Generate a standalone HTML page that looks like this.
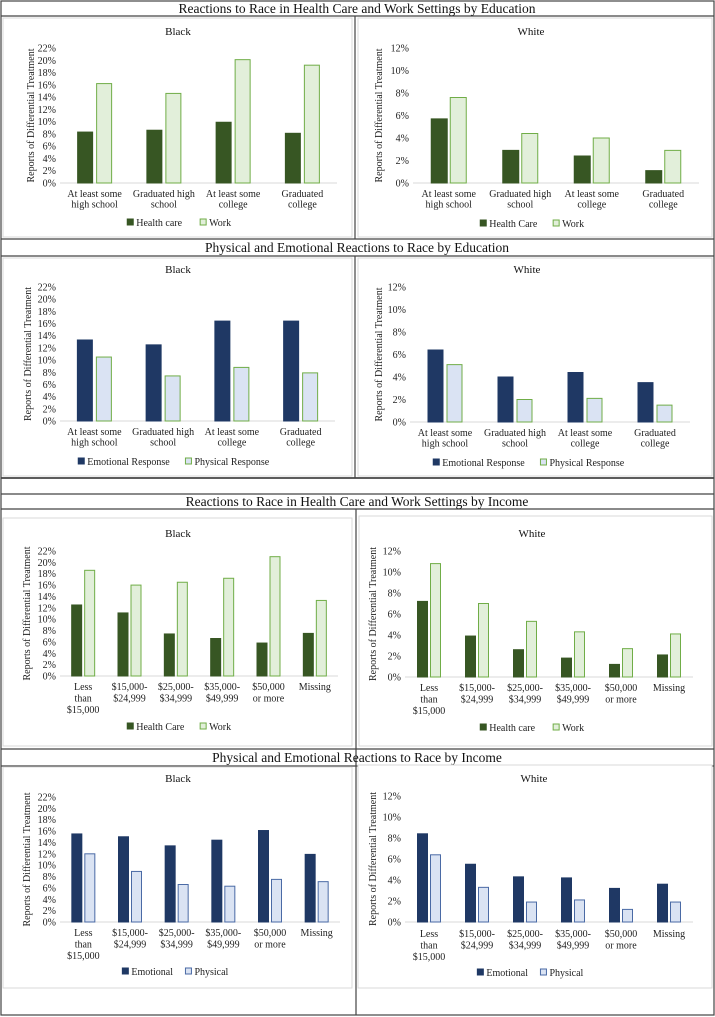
<!DOCTYPE html>
<html><head><meta charset="utf-8">
<style>
body{margin:0;background:#fff;}
svg{display:block;font-family:"Liberation Serif",serif;}
</style></head>
<body>
<svg id="s" width="715" height="1017" viewBox="0 0 715 1017">
<rect x="1" y="1" width="713" height="1014" fill="none" stroke="#444" stroke-width="1.2"/>
<g stroke="#444" stroke-width="1.2">
<line x1="1" y1="16" x2="714" y2="16"/>
<line x1="1" y1="239" x2="714" y2="239"/>
<line x1="1" y1="256" x2="714" y2="256"/>
<line x1="1" y1="478" x2="714" y2="478" stroke-width="1.8"/>
<line x1="1" y1="494" x2="714" y2="494"/>
<line x1="1" y1="509" x2="714" y2="509"/>
<line x1="1" y1="749" x2="714" y2="749"/>
<line x1="1" y1="766" x2="714" y2="766"/>
<line x1="355" y1="16" x2="355" y2="239"/>
<line x1="355" y1="256" x2="355" y2="478"/>
<line x1="356" y1="509" x2="356" y2="1015"/>
</g>
<g font-size="13.5" text-anchor="middle" fill="#111">
<text x="357" y="13">Reactions to Race in Health Care and Work Settings by Education</text>
<text x="357" y="252">Physical and Emotional Reactions to Race by Education</text>
<text x="357" y="506">Reactions to Race in Health Care and Work Settings by Income</text>
<text x="357" y="762">Physical and Emotional Reactions to Race by Income</text>
</g>
</svg>
<script>
const eduCats = [["At least some","high school"],["Graduated high","school"],["At least some","college"],["Graduated","college"]];
const incCats = [["Less","than","$15,000"],["$15,000-","$24,999"],["$25,000-","$34,999"],["$35,000-","$49,999"],["$50,000","or more"],["Missing"]];
const blackEduHealth = [8.3, 8.6, 9.9, 8.1];
const blackEduWork = [16.2, 14.6, 20.1, 19.2];
const whiteEduHealth = [5.7, 2.9, 2.4, 1.1];
const whiteEduWork = [7.6, 4.4, 4.0, 2.9];
const blackEduEmotional = [13.3, 12.5, 16.4, 16.4];
const blackEduPhysical = [10.5, 7.4, 8.8, 7.9];
const whiteEduEmotional = [6.4, 4.0, 4.4, 3.5];
const whiteEduPhysical = [5.1, 2.0, 2.1, 1.5];
const blackIncHealth = [12.5, 11.1, 7.4, 6.6, 5.8, 7.5];
const blackIncWork = [18.6, 16.0, 16.5, 17.2, 21.0, 13.3];
const whiteIncHealth = [7.2, 3.9, 2.6, 1.8, 1.2, 2.1];
const whiteIncWork = [10.8, 7.0, 5.3, 4.3, 2.7, 4.1];
const blackIncEmotional = [15.5, 15.0, 13.4, 14.4, 16.1, 11.9];
const blackIncPhysical = [12.0, 8.9, 6.6, 6.3, 7.5, 7.1];
const whiteIncEmotional = [8.4, 5.5, 4.3, 4.2, 3.2, 3.6];
const whiteIncPhysical = [6.4, 3.3, 1.9, 2.1, 1.2, 1.9];
const blackTicks = [0,2,4,6,8,10,12,14,16,18,20,22];
const whiteTicks = [0,2,4,6,8,10,12];

const NS = "http://www.w3.org/2000/svg";
const svg = document.getElementById('s');
function mk(tag, attrs, parent, txt){
  const e = document.createElementNS(NS, tag);
  for (const k in attrs) e.setAttribute(k, attrs[k]);
  if (txt !== undefined) e.textContent = txt;
  (parent||svg).appendChild(e);
  return e;
}
function chart(o){
  const g = mk('g', {});
  
  
  mk('rect', {x:o.px, y:o.py, width:o.pw, height:o.ph, fill:'#fff', stroke:'#d9d9d9', 'stroke-width':1}, g);
  const t = mk('text', {x:o.tx, y:o.ty, 'font-size':11, 'text-anchor':'middle', fill:'#111'}, g, o.title);
  
  
  const yS = v => o.y0 - (v / o.max) * (o.y0 - o.y1);
  const n = o.cats.length;
  const step = (o.x1 - o.x0) / n;
  const xC = i => o.x0 + step * (i + 0.5);
  mk('line', {x1:o.x0, x2:o.x1, y1:o.y0, y2:o.y0, stroke:'#d9d9d9', 'stroke-width':1}, g);
  o.ticks.forEach(v => {
    const tl = mk('text', {x:o.x0 - 4, y:yS(v) + 3.5, 'font-size':10, 'text-anchor':'end', fill:'#222'}, g, v + '%');
    
    
  });
  const ya = mk('text', {transform:`translate(${o.yax},${(o.y0+o.y1)/2}) rotate(-90)`, 'font-size':10, 'text-anchor':'middle', fill:'#222'}, g, 'Reports of Differential Treatment');
  
  
  o.cats.forEach((lines, i) => {
    const b1 = mk('rect', {x:xC(i) - o.bw - o.gap/2, y:yS(o.s1[i]), width:o.bw, height:o.y0 - yS(o.s1[i]), fill:o.col.c1, stroke:o.col.s1, 'stroke-width':1}, g);
    
    
    const b2 = mk('rect', {x:xC(i) + o.gap/2, y:yS(o.s2[i]), width:o.bw, height:o.y0 - yS(o.s2[i]), fill:o.col.c2, stroke:o.col.s2, 'stroke-width':1}, g);
    
    
    lines.forEach((ln, j) => {
      const xl = mk('text', {x:xC(i), y:o.ly + j*o.lh, 'font-size':10, 'text-anchor':'middle', fill:'#222'}, g, ln);
      
      
    });
  });
  const w1 = o.col.l1.length * 4.9, w2 = o.col.l2.length * 4.9;
  const total = 8 + 3 + w1 + 10 + 8 + 3 + w2;
  let lx = o.lgx - total/2;
  const lg = mk('g', {}, g);
  
  
  mk('rect', {x:lx, y:o.lgy - 7, width:6, height:6, fill:o.col.c1, stroke:o.col.s1}, lg);
  mk('text', {x:lx + 9, y:o.lgy, 'font-size':10, fill:'#222'}, lg, o.col.l1);
  lx += 9 + w1 + 10;
  mk('rect', {x:lx, y:o.lgy - 7, width:6, height:6, fill:o.col.c2, stroke:o.col.s2}, lg);
  mk('text', {x:lx + 9, y:o.lgy, 'font-size':10, fill:'#222'}, lg, o.col.l2);
}
const greenA = {c1:"#375623", s1:"#375623", c2:"#e2efda", s2:"#70ad47", l1:"Health care", l2:"Work"};
const greenB = {c1:"#375623", s1:"#375623", c2:"#e2efda", s2:"#70ad47", l1:"Health Care", l2:"Work"};
const blueEdu = {c1:"#1f3864", s1:"#1f3864", c2:"#dae3f3", s2:"#70ad47", l1:"Emotional Response", l2:"Physical Response"};
const blueInc = {c1:"#1f3864", s1:"#1f3864", c2:"#dae3f3", s2:"#4a6aa5", l1:"Emotional", l2:"Physical"};

chart({name:'chart-black-health-work-education', title:'Black', px:3, py:18, pw:349, ph:219, tx:178, ty:35, x0:60, x1:337, y0:183, y1:48, max:22, ticks:blackTicks, yax:34, cats:eduCats, s1:blackEduHealth, s2:blackEduWork, col:greenA, bw:15, gap:4, ly:197, lh:10.5, lgx:180, lgy:226});
chart({name:'chart-white-health-work-education', title:'White', px:358, py:18, pw:354, ph:219, tx:531, ty:35, x0:413, x1:699, y0:183, y1:48, max:12, ticks:whiteTicks, yax:382, cats:eduCats, s1:whiteEduHealth, s2:whiteEduWork, col:greenB, bw:16, gap:3, ly:197, lh:10.5, lgx:533, lgy:227});
chart({name:'chart-black-physical-emotional-education', title:'Black', px:3, py:258, pw:349, ph:218, tx:178, ty:273, x0:60, x1:335, y0:421, y1:287, max:22, ticks:blackTicks, yax:31, cats:eduCats, s1:blackEduEmotional, s2:blackEduPhysical, col:blueEdu, bw:15, gap:4, ly:435, lh:10.5, lgx:180, lgy:465});
chart({name:'chart-white-physical-emotional-education', title:'White', px:358, py:258, pw:354, ph:218, tx:527, ty:273, x0:410, x1:690, y0:422, y1:287, max:12, ticks:whiteTicks, yax:382, cats:eduCats, s1:whiteEduEmotional, s2:whiteEduPhysical, col:blueEdu, bw:15, gap:4, ly:436, lh:10.5, lgx:535, lgy:466});
chart({name:'chart-black-health-work-income', title:'Black', px:3, py:518, pw:349, ph:228, tx:178, ty:537, x0:60, x1:338, y0:676, y1:551, max:22, ticks:blackTicks, yax:30, cats:incCats, s1:blackIncHealth, s2:blackIncWork, col:greenB, bw:10, gap:3, ly:690, lh:11.5, lgx:180, lgy:730});
chart({name:'chart-white-health-work-income', title:'White', px:359, py:516, pw:353, ph:230, tx:532, ty:537, x0:405, x1:693, y0:677, y1:551, max:12, ticks:whiteTicks, yax:376, cats:incCats, s1:whiteIncHealth, s2:whiteIncWork, col:greenA, bw:10, gap:3, ly:691, lh:11.5, lgx:533, lgy:731});
chart({name:'chart-black-physical-emotional-income', title:'Black', px:3, py:767, pw:349, ph:221, tx:178, ty:782, x0:60, x1:340, y0:922, y1:797, max:22, ticks:blackTicks, yax:30, cats:incCats, s1:blackIncEmotional, s2:blackIncPhysical, col:blueInc, bw:10, gap:3, ly:936, lh:11.5, lgx:180, lgy:975});
chart({name:'chart-white-physical-emotional-income', title:'White', px:358, py:765, pw:354, ph:223, tx:534, ty:782, x0:405, x1:693, y0:922, y1:796, max:12, ticks:whiteTicks, yax:376, cats:incCats, s1:whiteIncEmotional, s2:whiteIncPhysical, col:blueInc, bw:10, gap:3, ly:937, lh:11.5, lgx:535, lgy:976});
</script>
</body></html>
